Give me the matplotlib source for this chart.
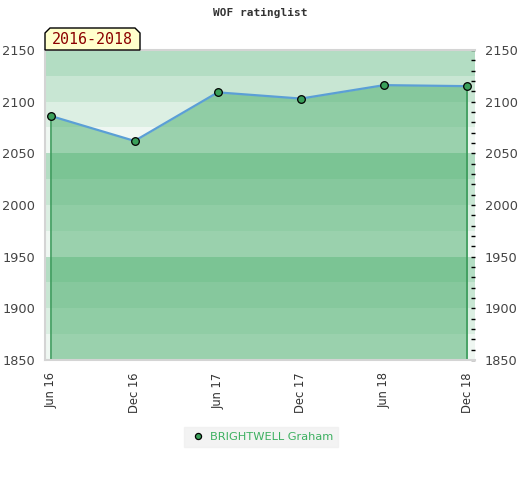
import matplotlib.pyplot as plt
from matplotlib.patches import Polygon
from matplotlib.ticker import MultipleLocator

# Rating history
periods = ['Jun 16', 'Dec 16', 'Jun 17', 'Dec 17', 'Jun 18', 'Dec 18']
ratings = [2086, 2062, 2109, 2103, 2116, 2115]
player = 'BRIGHTWELL Graham'
span_label = '2016-2018'

y_min, y_max = 1850, 2150
band_colors = {25: '#b3ddc3', 0: '#c8e6d3', 75: '#dcefe3', 50: '#eff7f2'}

fig = plt.figure(figsize=(5.2, 4.8), dpi=100)
ax = fig.add_axes([45 / 520, 1 - 360 / 480, 430 / 520, 310 / 480])

# striped background, 25 points per band
for lo in range(y_min, y_max, 25):
    ax.axhspan(lo, lo + 25, color=band_colors[lo % 100], lw=0, zorder=0)

x = list(range(len(ratings)))
ax.fill_between(x, ratings, y_min, color='#3ca861', alpha=0.47, lw=0, zorder=1)
ax.vlines([x[0], x[-1]], y_min, [ratings[0], ratings[-1]], color='#3a9a5a', lw=1.2, zorder=2)
ax.plot(x, ratings, color='#5b9fd6', lw=1.6, zorder=3)
ax.plot(x, ratings, 'o', ms=5.5, mfc='#3aa05a', mec='black', mew=0.9, zorder=4, label=player)

ax.set_xlim(-0.076, 5.092)
ax.set_ylim(y_min, y_max)
ax.set_xticks(x)
ax.set_xticklabels(periods, rotation=90, fontsize=8.3, color='#333333')
ax.tick_params(axis='x', length=0, pad=9)

ax.yaxis.set_major_locator(MultipleLocator(50))
ax.tick_params(axis='y', which='both', left=False, right=True, labelleft=True,
               labelright=True, direction='in', length=3, width=1, colors='black',
               labelsize=9.3, pad=7)
for lbl in ax.get_yticklabels():
    lbl.set_color('#444444')
ax.yaxis.set_minor_locator(MultipleLocator(10))
ax.tick_params(axis='y', which='minor', left=False, right=True, direction='in', length=3)

for side in ['top', 'bottom', 'left']:
    ax.spines[side].set_color('#d4d4d4')
    ax.spines[side].set_linewidth(1.5)
ax.spines['right'].set_visible(False)

fig.text(0.5, 1 - 13 / 480, 'WOF ratinglist', ha='center', va='center',
         family='DejaVu Sans Mono', fontweight='bold', fontsize=8, color='#333333')

# label tab with cut top corners
x0, x1 = 45 / 520, 140 / 520
y0, y1 = 1 - 50 / 480, 1 - 28 / 480
c = 5 / 520
tab = Polygon([(x0, y0), (x0, y1 - 5 / 480), (x0 + c, y1), (x1 - c, y1),
               (x1, y1 - 5 / 480), (x1, y0)], closed=True, transform=fig.transFigure,
              facecolor='#ffffcc', edgecolor='black', lw=1)
fig.patches.append(tab)
fig.text((x0 + x1) / 2, (y0 + y1) / 2 - 1 / 480, span_label, ha='center', va='center',
         family='DejaVu Sans Mono', fontsize=10.8, color='#8b0000')

leg = ax.legend(loc='center', bbox_to_anchor=(261 / 520, 1 - 437 / 480),
                bbox_transform=fig.transFigure, frameon=True, fancybox=False,
                fontsize=8.2, handletextpad=0.2, handlelength=1.6, borderpad=0.45,
                markerscale=0.8)
leg.get_frame().set_facecolor('#f0f0f0')
leg.get_frame().set_edgecolor('#f0f0f0')
for t in leg.get_texts():
    t.set_color('#3cb060')

fig.savefig('out.png', dpi=100)
